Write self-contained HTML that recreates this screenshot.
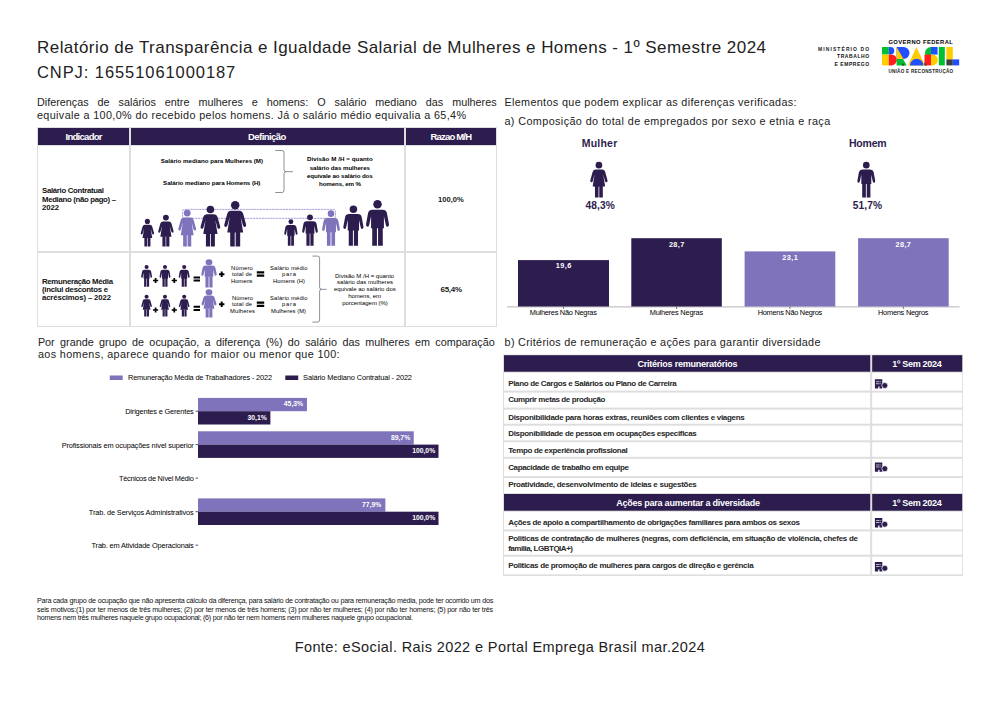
<!DOCTYPE html>
<html><head><meta charset="utf-8"><style>
html,body{margin:0;padding:0;background:#fff;width:1000px;height:707px;overflow:hidden;position:relative;}
body{font-family:"Liberation Sans",sans-serif;}
.t{position:absolute;line-height:1;white-space:nowrap;}
.r{position:absolute;}
</style></head><body>
<svg class="r" style="left:0;top:0" width="1000" height="707" viewBox="0 0 1000 707"><rect x="37.00" y="127.00" width="460.00" height="200.00" fill="#dedede"/><rect x="38.00" y="128.00" width="91.00" height="17.00" fill="#2d1d4e"/><rect x="38.00" y="146.00" width="91.00" height="105.00" fill="#fff"/><rect x="38.00" y="253.00" width="91.00" height="73.00" fill="#fff"/><rect x="131.00" y="128.00" width="273.00" height="17.00" fill="#2d1d4e"/><rect x="131.00" y="146.00" width="273.00" height="105.00" fill="#fff"/><rect x="131.00" y="253.00" width="273.00" height="73.00" fill="#fff"/><rect x="406.00" y="128.00" width="90.00" height="17.00" fill="#2d1d4e"/><rect x="406.00" y="146.00" width="90.00" height="105.00" fill="#fff"/><rect x="406.00" y="253.00" width="90.00" height="73.00" fill="#fff"/><rect x="503.00" y="354.50" width="460.00" height="221.50" fill="#dedede"/><rect x="504.00" y="355.20" width="366.20" height="16.50" fill="#2d1d4e"/><rect x="872.20" y="355.20" width="90.00" height="16.50" fill="#2d1d4e"/><rect x="504.00" y="372.70" width="366.20" height="17.90" fill="#fff"/><rect x="872.20" y="372.70" width="90.00" height="17.90" fill="#fff"/><rect x="504.00" y="392.60" width="366.20" height="15.00" fill="#fff"/><rect x="872.20" y="392.60" width="90.00" height="15.00" fill="#fff"/><rect x="504.00" y="409.60" width="366.20" height="14.10" fill="#fff"/><rect x="872.20" y="409.60" width="90.00" height="14.10" fill="#fff"/><rect x="504.00" y="425.70" width="366.20" height="14.60" fill="#fff"/><rect x="872.20" y="425.70" width="90.00" height="14.60" fill="#fff"/><rect x="504.00" y="442.30" width="366.20" height="14.50" fill="#fff"/><rect x="872.20" y="442.30" width="90.00" height="14.50" fill="#fff"/><rect x="504.00" y="458.80" width="366.20" height="17.30" fill="#fff"/><rect x="872.20" y="458.80" width="90.00" height="17.30" fill="#fff"/><rect x="504.00" y="478.10" width="366.20" height="14.90" fill="#fff"/><rect x="872.20" y="478.10" width="90.00" height="14.90" fill="#fff"/><rect x="504.00" y="494.00" width="366.20" height="16.70" fill="#2d1d4e"/><rect x="872.20" y="494.00" width="90.00" height="16.70" fill="#2d1d4e"/><rect x="504.00" y="511.70" width="366.20" height="17.70" fill="#fff"/><rect x="872.20" y="511.70" width="90.00" height="17.70" fill="#fff"/><rect x="504.00" y="531.40" width="366.20" height="23.30" fill="#fff"/><rect x="872.20" y="531.40" width="90.00" height="23.30" fill="#fff"/><rect x="504.00" y="556.70" width="366.20" height="17.70" fill="#fff"/><rect x="872.20" y="556.70" width="90.00" height="17.70" fill="#fff"/><line x1="507" y1="306.9" x2="959.6" y2="306.9" stroke="#b4b4b4" stroke-width="1"/><rect x="518.00" y="260.10" width="91.00" height="46.40" fill="#2d1d4e"/><line x1="563.50" y1="306.5" x2="563.50" y2="309" stroke="#333" stroke-width="0.6"/><rect x="631.30" y="238.20" width="90.50" height="68.30" fill="#2d1d4e"/><line x1="676.55" y1="306.5" x2="676.55" y2="309" stroke="#333" stroke-width="0.6"/><rect x="744.60" y="251.40" width="90.70" height="55.10" fill="#7f73bb"/><line x1="789.95" y1="306.5" x2="789.95" y2="309" stroke="#333" stroke-width="0.6"/><rect x="858.10" y="238.20" width="90.60" height="68.30" fill="#7f73bb"/><line x1="903.40" y1="306.5" x2="903.40" y2="309" stroke="#333" stroke-width="0.6"/><rect x="109.80" y="375.50" width="12.90" height="4.50" fill="#7f73bb"/><rect x="285.30" y="375.50" width="12.90" height="4.50" fill="#2d1d4e"/><rect x="198.00" y="397.90" width="108.95" height="13.30" fill="#7f73bb"/><rect x="198.00" y="411.20" width="72.39" height="13.30" fill="#2d1d4e"/><rect x="198.00" y="431.30" width="215.73" height="13.30" fill="#7f73bb"/><rect x="198.00" y="444.60" width="240.50" height="13.30" fill="#2d1d4e"/><rect x="198.00" y="498.40" width="187.35" height="13.30" fill="#7f73bb"/><rect x="198.00" y="511.70" width="240.50" height="13.30" fill="#2d1d4e"/><line x1="195.6" y1="411.2" x2="198" y2="411.2" stroke="#222" stroke-width="0.8"/><line x1="195.6" y1="444.6" x2="198" y2="444.6" stroke="#222" stroke-width="0.8"/><line x1="195.6" y1="478.1" x2="198" y2="478.1" stroke="#222" stroke-width="0.8"/><line x1="195.6" y1="511.7" x2="198" y2="511.7" stroke="#222" stroke-width="0.8"/><line x1="195.6" y1="545.2" x2="198" y2="545.2" stroke="#222" stroke-width="0.8"/><g transform="translate(581.05,161.80) scale(0.3570,0.3570)" fill="#2d1d4e"><ellipse cx="50" cy="9.5" rx="9.3" ry="9.3"/><path d="M41 21.5H59Q65.5 21.5 67.5 28L74 51.5Q75 56.5 71.5 57Q68 57.5 67 53.5L62 35L67.5 69.5H32.5L38 35L33 53.5Q32 57.5 28.5 57Q25 56.5 26 51.5L32.5 28Q34.5 21.5 41 21.5Z"/><rect x="39" y="68" width="10" height="32" rx="0.5"/><rect x="51" y="68" width="10" height="32" rx="0.5"/></g><g transform="translate(848.45,161.80) scale(0.3570,0.3570)" fill="#2d1d4e"><ellipse cx="50" cy="9.5" rx="9.3" ry="9.3"/><path d="M39 21.5H61Q68.5 21.5 70.5 28.5L75 53Q75.5 58 72 58.5Q68.5 59 68 54.5L64 36V62H36V36L32 54.5Q31.5 59 28 58.5Q24.5 58 25 53L29.5 28.5Q31.5 21.5 39 21.5Z"/><rect x="38.5" y="60" width="10.3" height="40" rx="0.5"/><rect x="51.2" y="60" width="10.3" height="40" rx="0.5"/></g><path d="M184.6 209.4H333.5Q335.5 209.4 335.5 211.4V216.3Q335.5 218.3 333.5 218.3H184.6Q182.6 218.3 182.6 216.3V211.4Q182.6 209.4 184.6 209.4Z" fill="none" stroke="#9c94da" stroke-width="0.9" stroke-dasharray="2.2 0.7"/><g transform="translate(133.60,218.80) scale(0.2760,0.2760)" fill="#2d1d4e"><ellipse cx="50" cy="9.5" rx="9.3" ry="9.3"/><path d="M41 21.5H59Q65.5 21.5 67.5 28L74 51.5Q75 56.5 71.5 57Q68 57.5 67 53.5L62 35L67.5 69.5H32.5L38 35L33 53.5Q32 57.5 28.5 57Q25 56.5 26 51.5L32.5 28Q34.5 21.5 41 21.5Z"/><rect x="39" y="68" width="10" height="32" rx="0.5"/><rect x="51" y="68" width="10" height="32" rx="0.5"/></g><g transform="translate(150.00,214.60) scale(0.3180,0.3180)" fill="#2d1d4e"><ellipse cx="50" cy="9.5" rx="9.3" ry="9.3"/><path d="M41 21.5H59Q65.5 21.5 67.5 28L74 51.5Q75 56.5 71.5 57Q68 57.5 67 53.5L62 35L67.5 69.5H32.5L38 35L33 53.5Q32 57.5 28.5 57Q25 56.5 26 51.5L32.5 28Q34.5 21.5 41 21.5Z"/><rect x="39" y="68" width="10" height="32" rx="0.5"/><rect x="51" y="68" width="10" height="32" rx="0.5"/></g><g transform="translate(168.80,209.60) scale(0.3680,0.3680)" fill="#7f73bb"><ellipse cx="50" cy="9.5" rx="9.3" ry="9.3"/><path d="M41 21.5H59Q65.5 21.5 67.5 28L74 51.5Q75 56.5 71.5 57Q68 57.5 67 53.5L62 35L67.5 69.5H32.5L38 35L33 53.5Q32 57.5 28.5 57Q25 56.5 26 51.5L32.5 28Q34.5 21.5 41 21.5Z"/><rect x="39" y="68" width="10" height="32" rx="0.5"/><rect x="51" y="68" width="10" height="32" rx="0.5"/></g><g transform="translate(190.00,205.60) scale(0.4080,0.4080)" fill="#2d1d4e"><ellipse cx="50" cy="9.5" rx="9.3" ry="9.3"/><path d="M41 21.5H59Q65.5 21.5 67.5 28L74 51.5Q75 56.5 71.5 57Q68 57.5 67 53.5L62 35L67.5 69.5H32.5L38 35L33 53.5Q32 57.5 28.5 57Q25 56.5 26 51.5L32.5 28Q34.5 21.5 41 21.5Z"/><rect x="39" y="68" width="10" height="32" rx="0.5"/><rect x="51" y="68" width="10" height="32" rx="0.5"/></g><g transform="translate(212.50,201.00) scale(0.4540,0.4540)" fill="#2d1d4e"><ellipse cx="50" cy="9.5" rx="9.3" ry="9.3"/><path d="M41 21.5H59Q65.5 21.5 67.5 28L74 51.5Q75 56.5 71.5 57Q68 57.5 67 53.5L62 35L67.5 69.5H32.5L38 35L33 53.5Q32 57.5 28.5 57Q25 56.5 26 51.5L32.5 28Q34.5 21.5 41 21.5Z"/><rect x="39" y="68" width="10" height="32" rx="0.5"/><rect x="51" y="68" width="10" height="32" rx="0.5"/></g><g transform="translate(277.65,219.20) scale(0.2650,0.2650)" fill="#2d1d4e"><ellipse cx="50" cy="9.5" rx="9.3" ry="9.3"/><path d="M39 21.5H61Q68.5 21.5 70.5 28.5L75 53Q75.5 58 72 58.5Q68.5 59 68 54.5L64 36V62H36V36L32 54.5Q31.5 59 28 58.5Q24.5 58 25 53L29.5 28.5Q31.5 21.5 39 21.5Z"/><rect x="38.5" y="60" width="10.3" height="40" rx="0.5"/><rect x="51.2" y="60" width="10.3" height="40" rx="0.5"/></g><g transform="translate(294.35,214.40) scale(0.3130,0.3130)" fill="#2d1d4e"><ellipse cx="50" cy="9.5" rx="9.3" ry="9.3"/><path d="M39 21.5H61Q68.5 21.5 70.5 28.5L75 53Q75.5 58 72 58.5Q68.5 59 68 54.5L64 36V62H36V36L32 54.5Q31.5 59 28 58.5Q24.5 58 25 53L29.5 28.5Q31.5 21.5 39 21.5Z"/><rect x="38.5" y="60" width="10.3" height="40" rx="0.5"/><rect x="51.2" y="60" width="10.3" height="40" rx="0.5"/></g><g transform="translate(313.30,210.30) scale(0.3540,0.3540)" fill="#7f73bb"><ellipse cx="50" cy="9.5" rx="9.3" ry="9.3"/><path d="M39 21.5H61Q68.5 21.5 70.5 28.5L75 53Q75.5 58 72 58.5Q68.5 59 68 54.5L64 36V62H36V36L32 54.5Q31.5 59 28 58.5Q24.5 58 25 53L29.5 28.5Q31.5 21.5 39 21.5Z"/><rect x="38.5" y="60" width="10.3" height="40" rx="0.5"/><rect x="51.2" y="60" width="10.3" height="40" rx="0.5"/></g><g transform="translate(333.25,205.40) scale(0.4030,0.4030)" fill="#2d1d4e"><ellipse cx="50" cy="9.5" rx="9.3" ry="9.3"/><path d="M39 21.5H61Q68.5 21.5 70.5 28.5L75 53Q75.5 58 72 58.5Q68.5 59 68 54.5L64 36V62H36V36L32 54.5Q31.5 59 28 58.5Q24.5 58 25 53L29.5 28.5Q31.5 21.5 39 21.5Z"/><rect x="38.5" y="60" width="10.3" height="40" rx="0.5"/><rect x="51.2" y="60" width="10.3" height="40" rx="0.5"/></g><g transform="translate(354.55,199.80) scale(0.4590,0.4590)" fill="#2d1d4e"><ellipse cx="50" cy="9.5" rx="9.3" ry="9.3"/><path d="M39 21.5H61Q68.5 21.5 70.5 28.5L75 53Q75.5 58 72 58.5Q68.5 59 68 54.5L64 36V62H36V36L32 54.5Q31.5 59 28 58.5Q24.5 58 25 53L29.5 28.5Q31.5 21.5 39 21.5Z"/><rect x="38.5" y="60" width="10.3" height="40" rx="0.5"/><rect x="51.2" y="60" width="10.3" height="40" rx="0.5"/></g><g transform="translate(135.70,265.00) scale(0.2180,0.2180)" fill="#2d1d4e"><ellipse cx="50" cy="9.5" rx="9.3" ry="9.3"/><path d="M39 21.5H61Q68.5 21.5 70.5 28.5L75 53Q75.5 58 72 58.5Q68.5 59 68 54.5L64 36V62H36V36L32 54.5Q31.5 59 28 58.5Q24.5 58 25 53L29.5 28.5Q31.5 21.5 39 21.5Z"/><rect x="38.5" y="60" width="10.3" height="40" rx="0.5"/><rect x="51.2" y="60" width="10.3" height="40" rx="0.5"/></g><g transform="translate(154.10,265.00) scale(0.2180,0.2180)" fill="#2d1d4e"><ellipse cx="50" cy="9.5" rx="9.3" ry="9.3"/><path d="M39 21.5H61Q68.5 21.5 70.5 28.5L75 53Q75.5 58 72 58.5Q68.5 59 68 54.5L64 36V62H36V36L32 54.5Q31.5 59 28 58.5Q24.5 58 25 53L29.5 28.5Q31.5 21.5 39 21.5Z"/><rect x="38.5" y="60" width="10.3" height="40" rx="0.5"/><rect x="51.2" y="60" width="10.3" height="40" rx="0.5"/></g><g transform="translate(173.30,265.00) scale(0.2180,0.2180)" fill="#2d1d4e"><ellipse cx="50" cy="9.5" rx="9.3" ry="9.3"/><path d="M39 21.5H61Q68.5 21.5 70.5 28.5L75 53Q75.5 58 72 58.5Q68.5 59 68 54.5L64 36V62H36V36L32 54.5Q31.5 59 28 58.5Q24.5 58 25 53L29.5 28.5Q31.5 21.5 39 21.5Z"/><rect x="38.5" y="60" width="10.3" height="40" rx="0.5"/><rect x="51.2" y="60" width="10.3" height="40" rx="0.5"/></g><g transform="translate(193.60,259.40) scale(0.3080,0.2800)" fill="#7f73bb"><ellipse cx="50" cy="10" rx="11" ry="10.5"/><path d="M39 21.5H61Q68.5 21.5 70.5 28.5L75 53Q75.5 58 72 58.5Q68.5 59 68 54.5L64 36V62H36V36L32 54.5Q31.5 59 28 58.5Q24.5 58 25 53L29.5 28.5Q31.5 21.5 39 21.5Z"/><rect x="38.5" y="60" width="10.3" height="40" rx="0.5"/><rect x="51.2" y="60" width="10.3" height="40" rx="0.5"/></g><g transform="translate(135.65,294.60) scale(0.2190,0.2190)" fill="#2d1d4e"><ellipse cx="50" cy="9.5" rx="9.3" ry="9.3"/><path d="M41 21.5H59Q65.5 21.5 67.5 28L74 51.5Q75 56.5 71.5 57Q68 57.5 67 53.5L62 35L67.5 69.5H32.5L38 35L33 53.5Q32 57.5 28.5 57Q25 56.5 26 51.5L32.5 28Q34.5 21.5 41 21.5Z"/><rect x="39" y="68" width="10" height="32" rx="0.5"/><rect x="51" y="68" width="10" height="32" rx="0.5"/></g><g transform="translate(154.05,294.60) scale(0.2190,0.2190)" fill="#2d1d4e"><ellipse cx="50" cy="9.5" rx="9.3" ry="9.3"/><path d="M41 21.5H59Q65.5 21.5 67.5 28L74 51.5Q75 56.5 71.5 57Q68 57.5 67 53.5L62 35L67.5 69.5H32.5L38 35L33 53.5Q32 57.5 28.5 57Q25 56.5 26 51.5L32.5 28Q34.5 21.5 41 21.5Z"/><rect x="39" y="68" width="10" height="32" rx="0.5"/><rect x="51" y="68" width="10" height="32" rx="0.5"/></g><g transform="translate(173.25,294.60) scale(0.2190,0.2190)" fill="#2d1d4e"><ellipse cx="50" cy="9.5" rx="9.3" ry="9.3"/><path d="M41 21.5H59Q65.5 21.5 67.5 28L74 51.5Q75 56.5 71.5 57Q68 57.5 67 53.5L62 35L67.5 69.5H32.5L38 35L33 53.5Q32 57.5 28.5 57Q25 56.5 26 51.5L32.5 28Q34.5 21.5 41 21.5Z"/><rect x="39" y="68" width="10" height="32" rx="0.5"/><rect x="51" y="68" width="10" height="32" rx="0.5"/></g><g transform="translate(193.60,289.40) scale(0.3080,0.2800)" fill="#7f73bb"><ellipse cx="50" cy="10" rx="11" ry="10.5"/><path d="M41 21.5H59Q65.5 21.5 67.5 28L74 51.5Q75 56.5 71.5 57Q68 57.5 67 53.5L62 35L67.5 69.5H32.5L38 35L33 53.5Q32 57.5 28.5 57Q25 56.5 26 51.5L32.5 28Q34.5 21.5 41 21.5Z"/><rect x="39" y="68" width="10" height="32" rx="0.5"/><rect x="51" y="68" width="10" height="32" rx="0.5"/></g><path d="M153.00 280.5H158.20M155.6 277.90V283.10" stroke="#000" stroke-width="1.7"/><path d="M171.70 280.5H176.90M174.3 277.90V283.10" stroke="#000" stroke-width="1.7"/><path d="M153.00 310H158.20M155.6 307.40V312.60" stroke="#000" stroke-width="1.7"/><path d="M171.70 310H176.90M174.3 307.40V312.60" stroke="#000" stroke-width="1.7"/><path d="M219.00 274.3H224.40M221.7 271.60V277.00" stroke="#000" stroke-width="1.9"/><path d="M219.00 304.3H224.40M221.7 301.60V307.00" stroke="#000" stroke-width="1.9"/><path d="M193.6 277.40H200M193.6 280.40H200" stroke="#000" stroke-width="2.0"/><path d="M193.6 306.80H200M193.6 310.00H200" stroke="#000" stroke-width="2.0"/><path d="M256.8 272.35H264.2M256.8 275.65H264.2" stroke="#000" stroke-width="2.1"/><path d="M256.8 302.65H264.2M256.8 305.85H264.2" stroke="#000" stroke-width="2.1"/><path d="M275.2 150.5H282Q284 150.5 284 152.5V169.7Q284 171.7 286 171.7H293M286 171.7Q284 171.7 284 173.7V190.5Q284 192.5 282 192.5H275.2" fill="none" stroke="#555" stroke-width="0.65"/><path d="M312.4 256.1H317.6Q319.6 256.1 319.6 258.1V287.3Q319.6 289.3 321.6 289.3H326.7M321.6 289.3Q319.6 289.3 319.6 291.3V320.1Q319.6 322.1 317.6 322.1H312.4" fill="none" stroke="#555" stroke-width="0.65"/><g transform="translate(874.9,379.2)"><path d="M0 0H7.4V9.4H4.6V7.4H3.3V9.4H0Z" fill="#2d1d4e"/><rect x="1.1" y="2.1" width="3.6" height="0.9" fill="#fff" opacity="0.75"/><rect x="5.4" y="2.1" width="0.9" height="0.9" fill="#fff" opacity="0.75"/><rect x="1.1" y="4.1" width="3.6" height="0.9" fill="#fff" opacity="0.75"/><rect x="5.4" y="4.1" width="0.9" height="0.9" fill="#fff" opacity="0.75"/><circle cx="9.9" cy="6.3" r="3" fill="#2d1d4e" stroke="#fff" stroke-width="0.7"/></g><g transform="translate(874.9,462.4)"><path d="M0 0H7.4V9.4H4.6V7.4H3.3V9.4H0Z" fill="#2d1d4e"/><rect x="1.1" y="2.1" width="3.6" height="0.9" fill="#fff" opacity="0.75"/><rect x="5.4" y="2.1" width="0.9" height="0.9" fill="#fff" opacity="0.75"/><rect x="1.1" y="4.1" width="3.6" height="0.9" fill="#fff" opacity="0.75"/><rect x="5.4" y="4.1" width="0.9" height="0.9" fill="#fff" opacity="0.75"/><circle cx="9.9" cy="6.3" r="3" fill="#2d1d4e" stroke="#fff" stroke-width="0.7"/></g><g transform="translate(874.9,518)"><path d="M0 0H7.4V9.4H4.6V7.4H3.3V9.4H0Z" fill="#2d1d4e"/><rect x="1.1" y="2.1" width="3.6" height="0.9" fill="#fff" opacity="0.75"/><rect x="5.4" y="2.1" width="0.9" height="0.9" fill="#fff" opacity="0.75"/><rect x="1.1" y="4.1" width="3.6" height="0.9" fill="#fff" opacity="0.75"/><rect x="5.4" y="4.1" width="0.9" height="0.9" fill="#fff" opacity="0.75"/><circle cx="9.9" cy="6.3" r="3" fill="#2d1d4e" stroke="#fff" stroke-width="0.7"/></g><g transform="translate(874.9,562)"><path d="M0 0H7.4V9.4H4.6V7.4H3.3V9.4H0Z" fill="#2d1d4e"/><rect x="1.1" y="2.1" width="3.6" height="0.9" fill="#fff" opacity="0.75"/><rect x="5.4" y="2.1" width="0.9" height="0.9" fill="#fff" opacity="0.75"/><rect x="1.1" y="4.1" width="3.6" height="0.9" fill="#fff" opacity="0.75"/><rect x="5.4" y="4.1" width="0.9" height="0.9" fill="#fff" opacity="0.75"/><circle cx="9.9" cy="6.3" r="3" fill="#2d1d4e" stroke="#fff" stroke-width="0.7"/></g><rect x="882" y="47" width="6.80" height="7.50" fill="#00c032"/><path d="M888.8 47H890.5A3.75 3.75 0 0 1 890.5 54.5H888.8Z" fill="#1f4fff"/><rect x="882" y="54.5" width="6.80" height="10.90" fill="#ffcc00"/><path d="M888.8 54.5H891.4A5.45 5.45 0 0 1 891.4 65.4H888.8Z" fill="#ff1d1d"/><path d="M896.6 47H903.5A6 6 0 0 1 903.5 59H896.6Z" fill="#1f4fff"/><path d="M896.6 47L903.5 59H896.6Z" fill="#ffcc00"/><path d="M896.6 59H903L906.8 65.4H896.6Z" fill="#00c032"/><path d="M903 63L904.6 65.4H901.6Z" fill="#3d3d3d"/><path d="M916.4 47L925 65.4H908Z" fill="#ffcc00"/><path d="M910 65.4A6.7 6.7 0 0 1 923.4 65.4Z" fill="#1f4fff"/><path d="M931 47V59A6 6 0 0 1 931 47Z" fill="#00c032"/><rect x="931" y="47" width="6.60" height="7.60" fill="#1f4fff"/><rect x="924.5" y="59" width="6.50" height="6.40" fill="#ff1d1d"/><path d="M924.5 54.6H931V59H924.5Z" fill="#ff1d1d"/><path d="M931 54.6H932.5A5.4 5.4 0 0 1 932.5 65.4H931Z" fill="#ffcc00"/><path d="M924.5 62L927 65.4H924.5Z" fill="#3d3d3d"/><rect x="938.8" y="47" width="6.00" height="18.40" fill="#00c032"/><rect x="946.4" y="47" width="6.40" height="12.40" fill="#ffcc00"/><rect x="946.4" y="59.4" width="6.40" height="6.00" fill="#3d3d3d"/><rect x="952.8" y="59.4" width="6.40" height="6.00" fill="#1f4fff"/></svg>
<div class="t" id="t0" style="top:39.00px;font-size:17px;font-weight:400;color:#222;left:37px;letter-spacing:0.449px;">Relatório de Transparência e Igualdade Salarial de Mulheres e Homens - 1º Semestre 2024</div>
<div class="t" id="t1" style="top:64.00px;font-size:16.5px;font-weight:400;color:#222;left:37px;letter-spacing:0.925px;">CNPJ: 16551061000187</div>
<div class="t" id="t2" style="top:97.00px;font-size:10.8px;font-weight:400;color:#222;left:37px;width:459.60px;text-align:justify;text-align-last:justify;white-space:nowrap;">Diferenças de salários entre mulheres e homens: O salário mediano das mulheres</div>
<div class="t" id="t3" style="top:110.00px;font-size:10.8px;font-weight:400;color:#222;left:37px;letter-spacing:0.363px;">equivale a 100,0% do recebido pelos homens. Já o salário médio equivalia a 65,4%</div>
<div class="t" id="t4" style="top:97.00px;font-size:10.8px;font-weight:400;color:#222;left:504.4px;letter-spacing:0.354px;">Elementos que podem explicar as diferenças verificadas:</div>
<div class="t" id="t5" style="top:116.00px;font-size:10.8px;font-weight:400;color:#222;left:504.4px;letter-spacing:0.405px;">a) Composição do total de empregados por sexo e etnia e raça</div>
<div class="t" id="t6" style="top:337.00px;font-size:10.8px;font-weight:400;color:#222;left:37.9px;width:456.80px;text-align:justify;text-align-last:justify;white-space:nowrap;">Por grande grupo de ocupação, a diferença (%) do salário das mulheres em comparação</div>
<div class="t" id="t7" style="top:349.00px;font-size:10.8px;font-weight:400;color:#222;left:37.9px;letter-spacing:0.370px;">aos homens, aparece quando for maior ou menor que 100:</div>
<div class="t" id="t8" style="top:337.00px;font-size:10.8px;font-weight:400;color:#222;left:504.6px;letter-spacing:0.302px;">b) Critérios de remuneração e ações para garantir diversidade</div>
<div class="t" id="t9" style="top:640.00px;font-size:14.5px;font-weight:400;color:#222;left:294.7px;letter-spacing:0.393px;">Fonte: eSocial. Rais 2022 e Portal Emprega Brasil mar.2024</div>
<div class="t" id="t10" style="top:597.00px;font-size:7.2px;font-weight:400;color:#111;left:37px;width:456.00px;text-align:justify;text-align-last:justify;white-space:nowrap;letter-spacing:-0.262px;">Para cada grupo de ocupação que não apresenta cálculo da diferença, para salário de contratação ou para remuneração média, pode ter ocorrido um dos</div>
<div class="t" id="t11" style="top:606.00px;font-size:7.2px;font-weight:400;color:#111;left:37px;width:456.00px;text-align:justify;text-align-last:justify;white-space:nowrap;letter-spacing:-0.206px;">seis motivos:(1) por ter menos de três mulheres; (2) por ter menos de três homens; (3) por não ter mulheres; (4) por não ter homens; (5) por não ter três</div>
<div class="t" id="t12" style="top:614.00px;font-size:7.2px;font-weight:400;color:#111;left:37px;letter-spacing:-0.259px;">homens nem três mulheres naquele grupo ocupacional; (6) por não ter nem homens nem mulheres naquele grupo ocupacional.</div>
<div class="t" id="t13" style="top:132.00px;font-size:9.5px;font-weight:700;color:#fff;left:65.5px;letter-spacing:-0.721px;">Indicador</div>
<div class="t" id="t14" style="top:132.00px;font-size:9.5px;font-weight:700;color:#fff;left:248px;letter-spacing:-0.558px;">Definição</div>
<div class="t" id="t15" style="top:132.00px;font-size:9.5px;font-weight:700;color:#fff;left:430.5px;letter-spacing:-0.818px;">Razao M/H</div>
<div class="t" id="t16" style="top:187.00px;font-size:7.8px;font-weight:700;color:#111;left:42px;letter-spacing:-0.303px;">Salário Contratual</div>
<div class="t" id="t17" style="top:196.00px;font-size:7.8px;font-weight:700;color:#111;left:42px;letter-spacing:-0.323px;">Mediano (não pago) –</div>
<div class="t" id="t18" style="top:204.00px;font-size:7.8px;font-weight:700;color:#111;left:42px;letter-spacing:-0.120px;">2022</div>
<div class="t" id="t19" style="top:278.00px;font-size:7.8px;font-weight:700;color:#111;left:42px;letter-spacing:-0.303px;">Remuneração Média</div>
<div class="t" id="t20" style="top:286.00px;font-size:7.8px;font-weight:700;color:#111;left:42px;letter-spacing:-0.257px;">(inclui descontos e</div>
<div class="t" id="t21" style="top:294.00px;font-size:7.8px;font-weight:700;color:#111;left:42px;letter-spacing:-0.149px;">acréscimos) – 2022</div>
<div class="t" id="t22" style="top:196.00px;font-size:7.6px;font-weight:700;color:#1a1a1a;left:438px;letter-spacing:-0.013px;">100,0%</div>
<div class="t" id="t23" style="top:286.00px;font-size:8px;font-weight:700;color:#1a1a1a;left:440.5px;letter-spacing:-0.297px;">65,4%</div>
<div class="t" id="t24" style="top:158.00px;font-size:6.2px;font-weight:700;color:#000;left:160.7px;letter-spacing:-0.002px;">Salário mediano para Mulheres (M)</div>
<div class="t" id="t25" style="top:180.00px;font-size:6.2px;font-weight:700;color:#000;left:163.1px;letter-spacing:-0.058px;">Salário mediano para Homens (H)</div>
<div class="t" id="t26" style="top:156.00px;font-size:6.2px;font-weight:700;color:#000;left:307px;letter-spacing:0.062px;">Divisão M /H = quanto</div>
<div class="t" id="t27" style="top:165.00px;font-size:6.2px;font-weight:700;color:#000;left:309.7px;letter-spacing:-0.066px;">salário das mulheres</div>
<div class="t" id="t28" style="top:173.00px;font-size:6.2px;font-weight:700;color:#000;left:307px;letter-spacing:-0.109px;">equivale ao salário dos</div>
<div class="t" id="t29" style="top:181.00px;font-size:6.2px;font-weight:700;color:#000;left:319px;letter-spacing:-0.121px;">homens, em %</div>
<div class="t" id="t30" style="top:266.00px;font-size:5.8px;font-weight:400;color:#000;left:231px;letter-spacing:0.235px;">Número</div>
<div class="t" id="t31" style="top:272.00px;font-size:5.8px;font-weight:400;color:#000;left:232px;letter-spacing:0.141px;">total de</div>
<div class="t" id="t32" style="top:279.00px;font-size:5.8px;font-weight:400;color:#000;left:231px;letter-spacing:-0.019px;">Homens</div>
<div class="t" id="t33" style="top:296.00px;font-size:5.8px;font-weight:400;color:#000;left:232px;letter-spacing:0.075px;">Número</div>
<div class="t" id="t34" style="top:302.00px;font-size:5.8px;font-weight:400;color:#000;left:232px;letter-spacing:0.141px;">total de</div>
<div class="t" id="t35" style="top:309.00px;font-size:5.8px;font-weight:400;color:#000;left:230px;letter-spacing:0.165px;">Mulheres</div>
<div class="t" id="t36" style="top:266.00px;font-size:5.8px;font-weight:400;color:#000;left:270px;letter-spacing:0.171px;">Salário médio</div>
<div class="t" id="t37" style="top:272.00px;font-size:5.8px;font-weight:400;color:#000;left:282px;letter-spacing:0.797px;">para</div>
<div class="t" id="t38" style="top:279.00px;font-size:5.8px;font-weight:400;color:#000;left:273px;letter-spacing:0.083px;">Homens (H)</div>
<div class="t" id="t39" style="top:296.00px;font-size:5.8px;font-weight:400;color:#000;left:270px;letter-spacing:0.171px;">Salário médio</div>
<div class="t" id="t40" style="top:302.00px;font-size:5.8px;font-weight:400;color:#000;left:282px;letter-spacing:0.797px;">para</div>
<div class="t" id="t41" style="top:309.00px;font-size:5.8px;font-weight:400;color:#000;left:271px;letter-spacing:0.077px;">Mulheres (M)</div>
<div class="t" id="t42" style="top:273.00px;font-size:6px;font-weight:400;color:#000;left:335px;letter-spacing:-0.000px;">Divisão M /H = quanto</div>
<div class="t" id="t43" style="top:279.00px;font-size:6px;font-weight:400;color:#000;left:337px;letter-spacing:0.034px;">salário das mulheres</div>
<div class="t" id="t44" style="top:286.00px;font-size:6px;font-weight:400;color:#000;left:334px;letter-spacing:0.019px;">equivale ao salário dos</div>
<div class="t" id="t45" style="top:293.00px;font-size:6px;font-weight:400;color:#000;left:348.2px;letter-spacing:-0.024px;">homens, em</div>
<div class="t" id="t46" style="top:300.00px;font-size:6px;font-weight:400;color:#000;left:342.2px;letter-spacing:-0.031px;">porcentagem (%)</div>
<div class="t" id="t47" style="top:138.00px;font-size:10.5px;font-weight:700;color:#2d1d4e;left:581.7px;letter-spacing:0.236px;">Mulher</div>
<div class="t" id="t48" style="top:138.00px;font-size:10.5px;font-weight:700;color:#2d1d4e;left:848.9px;letter-spacing:-0.179px;">Homem</div>
<div class="t" id="t49" style="top:201.00px;font-size:10.2px;font-weight:700;color:#2d1d4e;left:585.5px;letter-spacing:0.102px;">48,3%</div>
<div class="t" id="t50" style="top:201.00px;font-size:10.2px;font-weight:700;color:#2d1d4e;left:852.7px;letter-spacing:0.102px;">51,7%</div>
<div class="t" id="t51" style="top:262.00px;font-size:7.3px;font-weight:700;color:#fff;left:555.8px;letter-spacing:0.399px;">19,6</div>
<div class="t" id="t52" style="top:241.00px;font-size:7.3px;font-weight:700;color:#fff;left:668.9px;letter-spacing:0.399px;">28,7</div>
<div class="t" id="t53" style="top:254.00px;font-size:7.3px;font-weight:700;color:#fff;left:782.3px;letter-spacing:0.399px;">23,1</div>
<div class="t" id="t54" style="top:241.00px;font-size:7.3px;font-weight:700;color:#fff;left:895.5px;letter-spacing:0.399px;">28,7</div>
<div class="t" id="t55" style="top:309.00px;font-size:7.4px;font-weight:400;color:#000;left:529.8px;letter-spacing:-0.266px;">Mulheres Não Negras</div>
<div class="t" id="t56" style="top:309.00px;font-size:7.4px;font-weight:400;color:#000;left:649.7px;letter-spacing:-0.199px;">Mulheres Negras</div>
<div class="t" id="t57" style="top:309.00px;font-size:7.4px;font-weight:400;color:#000;left:757.7px;letter-spacing:-0.276px;">Homens Não Negros</div>
<div class="t" id="t58" style="top:309.00px;font-size:7.4px;font-weight:400;color:#000;left:878px;letter-spacing:-0.242px;">Homens Negros</div>
<div class="t" id="t59" style="top:374.00px;font-size:7.4px;font-weight:400;color:#000;left:128px;letter-spacing:-0.180px;">Remuneração Média de Trabalhadores - 2022</div>
<div class="t" id="t60" style="top:374.00px;font-size:7.4px;font-weight:400;color:#000;left:303.1px;letter-spacing:-0.115px;">Salário Mediano Contratual - 2022</div>
<div class="t" id="t61" style="top:408.00px;font-size:7.4px;font-weight:400;color:#000;left:125.2px;letter-spacing:-0.165px;">Dirigentes e Gerentes</div>
<div class="t" id="t62" style="top:442.00px;font-size:7.4px;font-weight:400;color:#000;left:61.7px;letter-spacing:-0.158px;">Profissionais em ocupações nível superior</div>
<div class="t" id="t63" style="top:475.00px;font-size:7.4px;font-weight:400;color:#000;left:119px;letter-spacing:-0.278px;">Técnicos de Nível Médio</div>
<div class="t" id="t64" style="top:509.00px;font-size:7.4px;font-weight:400;color:#000;left:88.8px;letter-spacing:-0.138px;">Trab. de Serviços Administrativos</div>
<div class="t" id="t65" style="top:542.00px;font-size:7.4px;font-weight:400;color:#000;left:91.5px;letter-spacing:-0.155px;">Trab. em Atividade Operacionais</div>
<div class="t" id="t66" style="top:401.00px;font-size:6.8px;font-weight:700;color:#fff;right:696.9px;">45,3%</div>
<div class="t" id="t67" style="top:415.00px;font-size:6.8px;font-weight:700;color:#fff;right:733.2px;">30,1%</div>
<div class="t" id="t68" style="top:435.00px;font-size:6.8px;font-weight:700;color:#fff;right:589.8px;">89,7%</div>
<div class="t" id="t69" style="top:448.00px;font-size:6.8px;font-weight:700;color:#fff;right:564.8px;">100,0%</div>
<div class="t" id="t70" style="top:502.00px;font-size:6.8px;font-weight:700;color:#fff;right:618.7px;">77,9%</div>
<div class="t" id="t71" style="top:515.00px;font-size:6.8px;font-weight:700;color:#fff;right:564.8px;">100,0%</div>
<div class="t" id="t72" style="top:380.00px;font-size:8px;font-weight:700;color:#262626;left:508.2px;letter-spacing:-0.329px;">Plano de Cargos e Salários ou Plano de Carreira</div>
<div class="t" id="t73" style="top:396.00px;font-size:8px;font-weight:700;color:#262626;left:508.2px;letter-spacing:-0.395px;">Cumprir metas de produção</div>
<div class="t" id="t74" style="top:414.00px;font-size:8px;font-weight:700;color:#262626;left:508.2px;letter-spacing:-0.293px;">Disponibilidade para horas extras, reuniões com clientes e viagens</div>
<div class="t" id="t75" style="top:430.00px;font-size:8px;font-weight:700;color:#262626;left:508.2px;letter-spacing:-0.316px;">Disponibilidade de pessoa em ocupações especificas</div>
<div class="t" id="t76" style="top:447.00px;font-size:8px;font-weight:700;color:#262626;left:508.2px;letter-spacing:-0.359px;">Tempo de experiência profissional</div>
<div class="t" id="t77" style="top:464.00px;font-size:8px;font-weight:700;color:#262626;left:508.2px;letter-spacing:-0.366px;">Capacidade de trabalho em equipe</div>
<div class="t" id="t78" style="top:481.00px;font-size:8px;font-weight:700;color:#262626;left:508.2px;letter-spacing:-0.283px;">Proatividade, desenvolvimento de ideias e sugestões</div>
<div class="t" id="t79" style="top:519.00px;font-size:8px;font-weight:700;color:#262626;left:508.2px;letter-spacing:-0.327px;">Ações de apoio a compartilhamento de obrigações familiares para ambos os sexos</div>
<div class="t" id="t80" style="top:535.00px;font-size:8px;font-weight:700;color:#262626;left:508.2px;letter-spacing:-0.281px;">Politicas de contratação de mulheres (negras, com deficiência, em situação de violência, chefes de</div>
<div class="t" id="t81" style="top:545.00px;font-size:8px;font-weight:700;color:#262626;left:508.2px;letter-spacing:-0.490px;">familia, LGBTQIA+)</div>
<div class="t" id="t82" style="top:562.00px;font-size:8px;font-weight:700;color:#262626;left:508.2px;letter-spacing:-0.317px;">Politicas de promoção de mulheres para cargos de direção e gerência</div>
<div class="t" id="t83" style="top:360.00px;font-size:9px;font-weight:700;color:#fff;left:637.5px;letter-spacing:-0.236px;">Critérios remuneratórios</div>
<div class="t" id="t84" style="top:360.00px;font-size:9px;font-weight:700;color:#fff;left:892.3px;letter-spacing:-0.283px;">1º Sem 2024</div>
<div class="t" id="t85" style="top:499.00px;font-size:9px;font-weight:700;color:#fff;left:616.3px;letter-spacing:-0.246px;">Ações para aumentar a diversidade</div>
<div class="t" id="t86" style="top:499.00px;font-size:9px;font-weight:700;color:#fff;left:892.3px;letter-spacing:-0.283px;">1º Sem 2024</div>
<div class="t" id="t87" style="top:47.00px;font-size:5px;font-weight:700;color:#222;left:818px;letter-spacing:1.086px;">MINISTÉRIO DO</div>
<div class="t" id="t88" style="top:54.00px;font-size:5px;font-weight:700;color:#111;left:837px;letter-spacing:0.577px;">TRABALHO</div>
<div class="t" id="t89" style="top:62.00px;font-size:5px;font-weight:700;color:#111;left:834.5px;letter-spacing:0.538px;">E EMPREGO</div>
<div class="t" id="t90" style="top:40.00px;font-size:5.8px;font-weight:700;color:#000;left:888.4px;letter-spacing:0.412px;">GOVERNO FEDERAL</div>
<div class="t" id="t91" style="top:70.00px;font-size:4.6px;font-weight:700;color:#222;left:888.4px;letter-spacing:0.267px;">UNIÃO E RECONSTRUÇÃO</div>
</body></html>
